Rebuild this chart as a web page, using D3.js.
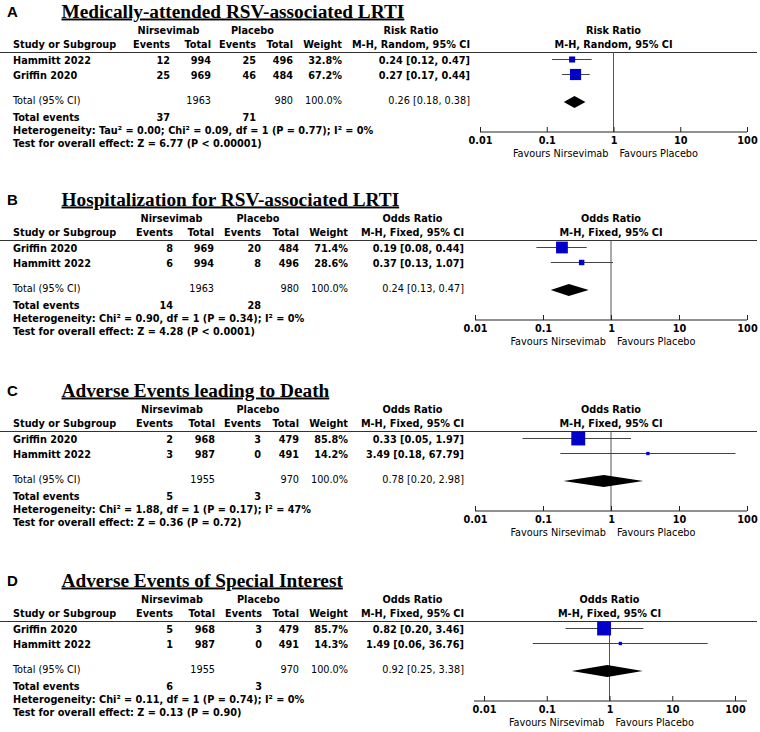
<!DOCTYPE html>
<html>
<head>
<meta charset="utf-8">
<script src="https://cdn.jsdelivr.net/npm/d3@7"></script>
<style>
  body { margin: 0; background: #fff; }
  svg { display: block; }
  text { font-family: "DejaVu Sans Condensed", "DejaVu Sans", sans-serif; font-stretch: condensed; fill: #000; }
  text.letter { font-family: "Liberation Sans", Arial, sans-serif; font-stretch: normal; }
  text.title { font-family: "Liberation Serif", "Times New Roman", serif; font-stretch: normal; text-decoration: underline; }
</style>
</head>
<body>
<div id="chart"></div>
<script>
// ---- data ----
const panelLetters = ['A', 'B', 'C', 'D'];
const panelTitles = [
  'Medically-attended RSV-associated LRTI',
  'Hospitalization for RSV-associated LRTI',
  'Adverse Events leading to Death',
  'Adverse Events of Special Interest'
];
const effectLabels = ['Risk Ratio', 'Odds Ratio', 'Odds Ratio', 'Odds Ratio'];
const methodLabels = ['M-H, Random, 95% CI', 'M-H, Fixed, 95% CI', 'M-H, Fixed, 95% CI', 'M-H, Fixed, 95% CI'];

const studyNames = [
  ['Hammitt 2022', 'Griffin 2020'],
  ['Griffin 2020', 'Hammitt 2022'],
  ['Griffin 2020', 'Hammitt 2022'],
  ['Griffin 2020', 'Hammitt 2022']
];
const nirEvents = [[12, 25], [8, 6], [2, 3], [5, 1]];
const nirTotals = [[994, 969], [969, 994], [968, 987], [968, 987]];
const plaEvents = [[25, 46], [20, 8], [3, 0], [3, 0]];
const plaTotals = [[496, 484], [484, 496], [479, 491], [479, 491]];
const weights = [[32.8, 67.2], [71.4, 28.6], [85.8, 14.2], [85.7, 14.3]];
const estimates = [[0.24, 0.27], [0.19, 0.37], [0.33, 3.49], [0.82, 1.49]];
const lowerCI = [[0.12, 0.17], [0.08, 0.13], [0.05, 0.18], [0.20, 0.06]];
const upperCI = [[0.47, 0.44], [0.44, 1.07], [1.97, 67.79], [3.46, 36.76]];

const pooledNirTotal = [1963, 1963, 1955, 1955];
const pooledPlaTotal = [980, 980, 970, 970];
const pooledEst = [0.26, 0.24, 0.78, 0.92];
const pooledLow = [0.18, 0.13, 0.20, 0.25];
const pooledHigh = [0.38, 0.47, 2.98, 3.38];
const totalNirEvents = [37, 14, 5, 6];
const totalPlaEvents = [71, 28, 3, 3];
const heterogeneity = [
  'Heterogeneity: Tau² = 0.00; Chi² = 0.09, df = 1 (P = 0.77); I² = 0%',
  'Heterogeneity: Chi² = 0.90, df = 1 (P = 0.34); I² = 0%',
  'Heterogeneity: Chi² = 1.88, df = 1 (P = 0.17); I² = 47%',
  'Heterogeneity: Chi² = 0.11, df = 1 (P = 0.74); I² = 0%'
];
const overallTests = [
  'Test for overall effect: Z = 6.77 (P < 0.00001)',
  'Test for overall effect: Z = 4.28 (P < 0.0001)',
  'Test for overall effect: Z = 0.36 (P = 0.72)',
  'Test for overall effect: Z = 0.13 (P = 0.90)'
];
const axisTicks = [0.01, 0.1, 1, 10, 100];
const favoursLabels = ['Favours Nirsevimab', 'Favours Placebo'];

// ---- layout ----
const width = 760, height = 732;
const panelTop = [0, 188, 379, 569];
// right edges of Events, Total, Events, Total, Weight columns
const colRight = [
  [170, 211, 256, 293, 342],
  [173, 214, 261, 299, 348],
  [173, 215, 261, 299, 348],
  [173, 215, 262, 299, 348]
];
const effectRight = [470, 464, 464, 464];
const plotRange = [[480, 747], [475, 747], [475, 747], [484, 735]];
const axisExtent = [[480, 747], [475, 747], [475, 747], [474, 747]];

const y = { hdr1: 33.5, hdr2: 47.5, rule: 52.5, rows: [64, 79], total: 104, events: 121,
            het: 133.5, test: 146.5, axis: 132, tickLab: 144, favours: 156.5 };

const fontSize = 10.8;
const fmt2 = d3.format('.2f');
const fmtW = d => d3.format('.1f')(d) + '%';
const ciText = (e, l, h) => `${fmt2(e)} [${fmt2(l)}, ${fmt2(h)}]`;

const sizeScale = d3.scaleLinear().domain([0, 100]).range([1.2, 16]);

const svg = d3.select('#chart').append('svg')
  .attr('width', width)
  .attr('height', height)
  .attr('viewBox', `0 0 ${width} ${height}`);

panelTitles.forEach((title, p) => {
  const g = svg.append('g').attr('transform', `translate(0,${panelTop[p]})`);
  const cols = colRight[p];
  const x = d3.scaleLog().domain([0.01, 100]).range(plotRange[p]);

  const txt = (s, xx, yy, anchor = 'start', weight = 'bold') =>
    g.append('text')
      .attr('x', xx).attr('y', yy)
      .attr('text-anchor', anchor)
      .attr('font-size', fontSize)
      .attr('font-weight', weight)
      .text(s);

  // panel letter and title
  g.append('text')
    .attr('class', 'letter')
    .attr('x', 7).attr('y', 17)
    .attr('font-size', 15)
    .attr('font-weight', 'bold')
    .text(panelLetters[p]);
  g.append('text')
    .attr('class', 'title')
    .attr('x', 61.5).attr('y', 17.5)
    .attr('font-size', 19.3)
    .attr('font-weight', 'bold')
    .text(title);

  // group headers
  txt('Nirsevimab', (cols[0] + cols[1]) / 2 - 22, y.hdr1, 'middle');
  txt('Placebo', (cols[2] + cols[3]) / 2 - 22, y.hdr1, 'middle');
  txt('Study or Subgroup', 13, y.hdr2);
  ['Events', 'Total', 'Events', 'Total', 'Weight'].forEach((h, i) => txt(h, cols[i], y.hdr2, 'end'));
  const m2 = txt(methodLabels[p], effectRight[p], y.hdr2, 'end');
  const mw = m2.node().getComputedTextLength();
  txt(effectLabels[p], effectRight[p] - mw / 2, y.hdr1, 'middle');

  // plot headers
  const xMid = x(1);
  txt(effectLabels[p], xMid, y.hdr1, 'middle');
  txt(methodLabels[p], xMid, y.hdr2, 'middle');

  // header rule
  g.append('line')
    .attr('x1', 0).attr('x2', 757)
    .attr('y1', y.rule).attr('y2', y.rule)
    .attr('stroke', '#333').attr('stroke-width', 1);

  // study rows
  const rows = studyNames[p].map((name, i) => ({
    name,
    ne: nirEvents[p][i], nt: nirTotals[p][i],
    pe: plaEvents[p][i], pt: plaTotals[p][i],
    w: weights[p][i],
    est: estimates[p][i], lo: lowerCI[p][i], hi: upperCI[p][i],
    yy: y.rows[i]
  }));

  rows.forEach(r => {
    txt(r.name, 13, r.yy);
    [r.ne, r.nt, r.pe, r.pt].forEach((v, i) => txt(v, cols[i], r.yy, 'end'));
    txt(fmtW(r.w), cols[4], r.yy, 'end');
    txt(ciText(r.est, r.lo, r.hi), effectRight[p], r.yy, 'end');
  });

  // totals
  txt('Total (95% CI)', 13, y.total, 'start', 'normal');
  txt(pooledNirTotal[p], cols[1], y.total, 'end', 'normal');
  txt(pooledPlaTotal[p], cols[3], y.total, 'end', 'normal');
  txt(fmtW(100), cols[4], y.total, 'end', 'normal');
  txt(ciText(pooledEst[p], pooledLow[p], pooledHigh[p]), effectRight[p], y.total, 'end', 'normal');

  txt('Total events', 13, y.events);
  txt(totalNirEvents[p], cols[0], y.events, 'end');
  txt(totalPlaEvents[p], cols[2], y.events, 'end');
  txt(heterogeneity[p], 13, y.het);
  txt(overallTests[p], 13, y.test);

  // line of no effect
  g.append('line')
    .attr('x1', x(1)).attr('x2', x(1))
    .attr('y1', y.rule).attr('y2', y.axis)
    .attr('stroke', '#555').attr('stroke-width', 1);

  // confidence intervals
  g.append('g')
    .selectAll('line')
    .data(rows)
    .join('line')
    .attr('x1', d => x(d.lo))
    .attr('x2', d => x(d.hi))
    .attr('y1', d => d.yy - 4.5)
    .attr('y2', d => d.yy - 4.5)
    .attr('stroke', '#444')
    .attr('stroke-width', 1);

  // weighted squares
  g.append('g')
    .selectAll('rect')
    .data(rows)
    .join('rect')
    .attr('x', d => x(d.est) - sizeScale(d.w) / 2)
    .attr('y', d => d.yy - 4.5 - sizeScale(d.w) / 2)
    .attr('width', d => sizeScale(d.w))
    .attr('height', d => sizeScale(d.w))
    .attr('fill', '#0000c8');

  // pooled diamond
  const dy = y.total - 2, dh = 6;
  g.append('path')
    .attr('d', `M${x(pooledLow[p])},${dy}L${x(pooledEst[p])},${dy - dh}L${x(pooledHigh[p])},${dy}L${x(pooledEst[p])},${dy + dh}Z`)
    .attr('fill', '#000');

  // axis
  g.append('line')
    .attr('x1', axisExtent[p][0]).attr('x2', axisExtent[p][1])
    .attr('y1', y.axis).attr('y2', y.axis)
    .attr('stroke', '#222').attr('stroke-width', 1);

  const axis = d3.axisBottom(x)
    .tickValues(axisTicks)
    .tickFormat(d => d)
    .tickSizeInner(-5)
    .tickSizeOuter(0)
    .tickPadding(12);

  const ag = g.append('g')
    .attr('transform', `translate(0,${y.axis})`)
    .call(axis);
  ag.select('.domain').remove();
  ag.selectAll('.tick line').attr('stroke', '#222');
  ag.selectAll('.tick text')
    .attr('font-size', fontSize)
    .attr('font-weight', 'bold')
    .attr('dy', 0)
    .attr('y', y.tickLab - y.axis);

  txt(favoursLabels[0], x(1) - 5, y.favours, 'end', 'normal');
  txt(favoursLabels[1], x(1) + 6, y.favours, 'start', 'normal');
});
</script>
</body>
</html>
